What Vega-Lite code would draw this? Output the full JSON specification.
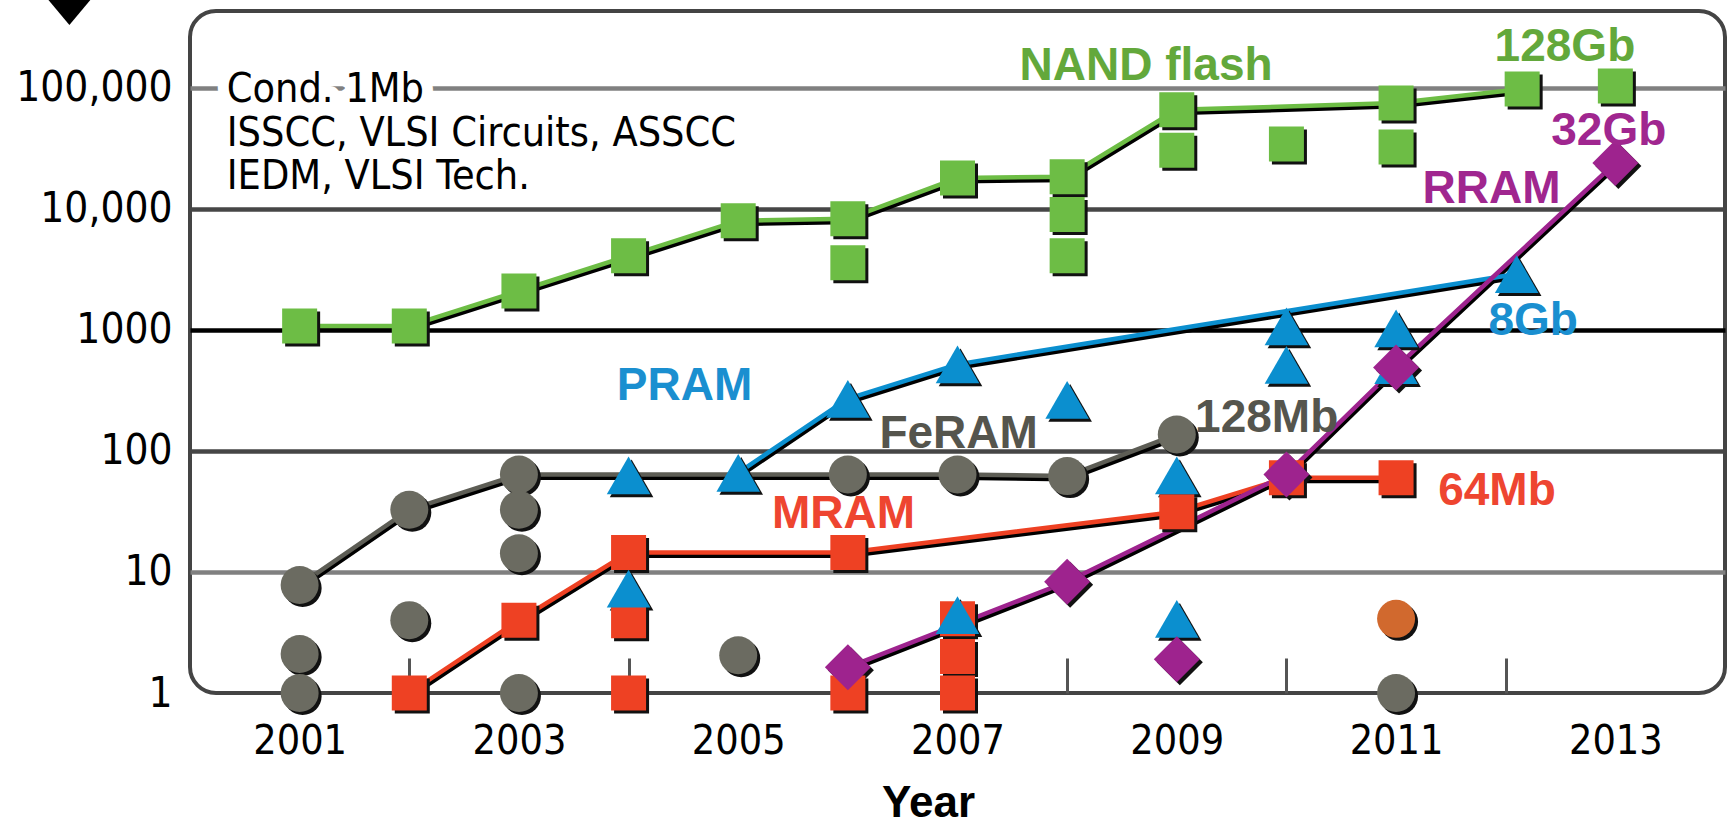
{
  "$schema": "https://vega.github.io/schema/vega-lite/v6.json",
  "width": 1535,
  "height": 682,
  "autosize": {"type": "none"},
  "padding": {"left": 190, "top": 11, "right": 7, "bottom": 129},
  "background": "white",
  "config": {
    "view": {"stroke": "#444444", "strokeWidth": 4, "cornerRadius": 26},
    "axis": {"labelFont": "DejaVu Sans Condensed", "labelColor": "#000000"}
  },
  "datasets": {
    "points": [
      {"series": "FeRAM", "year": 2001, "value": 7.8, "L": 1},
      {"series": "FeRAM", "year": 2001, "value": 2.1, "L": 0},
      {"series": "FeRAM", "year": 2001, "value": 1, "L": 0},
      {"series": "FeRAM", "year": 2002, "value": 32.7, "L": 1},
      {"series": "FeRAM", "year": 2002, "value": 4, "L": 0},
      {"series": "FeRAM", "year": 2003, "value": 64, "L": 1},
      {"series": "FeRAM", "year": 2003, "value": 32.7, "L": 0},
      {"series": "FeRAM", "year": 2003, "value": 14.3, "L": 0},
      {"series": "FeRAM", "year": 2003, "value": 1, "L": 0},
      {"series": "FeRAM", "year": 2005, "value": 2.05, "L": 0},
      {"series": "FeRAM", "year": 2006, "value": 64, "L": 1},
      {"series": "FeRAM", "year": 2007, "value": 64, "L": 1},
      {"series": "FeRAM", "year": 2008, "value": 62, "L": 1},
      {"series": "FeRAM", "year": 2009, "value": 137, "L": 1},
      {"series": "FeRAM", "year": 2011, "value": 1, "L": 0},
      {"series": "Other", "year": 2011, "value": 4.1, "L": 0},
      {"series": "MRAM", "year": 2002, "value": 1, "L": 1},
      {"series": "MRAM", "year": 2003, "value": 4, "L": 1},
      {"series": "MRAM", "year": 2004, "value": 14.5, "L": 1},
      {"series": "MRAM", "year": 2004, "value": 3.95, "L": 0},
      {"series": "MRAM", "year": 2004, "value": 1, "L": 0},
      {"series": "MRAM", "year": 2006, "value": 14.5, "L": 1},
      {"series": "MRAM", "year": 2006, "value": 1, "L": 0},
      {"series": "MRAM", "year": 2007, "value": 4.1, "L": 0},
      {"series": "MRAM", "year": 2007, "value": 2, "L": 0},
      {"series": "MRAM", "year": 2007, "value": 1, "L": 0},
      {"series": "MRAM", "year": 2009, "value": 31.5, "L": 1},
      {"series": "MRAM", "year": 2010, "value": 60, "L": 1},
      {"series": "MRAM", "year": 2011, "value": 60, "L": 1},
      {"series": "PRAM", "year": 2004, "value": 63, "L": 0},
      {"series": "PRAM", "year": 2004, "value": 7.3, "L": 0},
      {"series": "PRAM", "year": 2005, "value": 66, "L": 1},
      {"series": "PRAM", "year": 2006, "value": 270, "L": 1},
      {"series": "PRAM", "year": 2007, "value": 520, "L": 1},
      {"series": "PRAM", "year": 2007, "value": 4.4, "L": 0},
      {"series": "PRAM", "year": 2008, "value": 265, "L": 0},
      {"series": "PRAM", "year": 2009, "value": 63, "L": 0},
      {"series": "PRAM", "year": 2009, "value": 4.1, "L": 0},
      {"series": "PRAM", "year": 2010, "value": 1070, "L": 0},
      {"series": "PRAM", "year": 2010, "value": 515, "L": 0},
      {"series": "PRAM", "year": 2011, "value": 1030, "L": 0},
      {"series": "PRAM", "year": 2011, "value": 512, "L": 0},
      {"series": "PRAM", "year": 2012.1, "value": 2900, "L": 1},
      {"series": "RRAM", "year": 2006, "value": 1.63, "L": 1},
      {"series": "RRAM", "year": 2008, "value": 8.3, "L": 1},
      {"series": "RRAM", "year": 2009, "value": 1.9, "L": 0},
      {"series": "RRAM", "year": 2010, "value": 64, "L": 1},
      {"series": "RRAM", "year": 2011, "value": 490, "L": 1},
      {"series": "RRAM", "year": 2013, "value": 24000, "L": 1},
      {"series": "NAND", "year": 2001, "value": 1080, "L": 1},
      {"series": "NAND", "year": 2002, "value": 1080, "L": 1},
      {"series": "NAND", "year": 2003, "value": 2100, "L": 1},
      {"series": "NAND", "year": 2004, "value": 4100, "L": 1},
      {"series": "NAND", "year": 2005, "value": 8000, "L": 1},
      {"series": "NAND", "year": 2006, "value": 8300, "L": 1},
      {"series": "NAND", "year": 2006, "value": 3600, "L": 0},
      {"series": "NAND", "year": 2007, "value": 18000, "L": 1},
      {"series": "NAND", "year": 2008, "value": 18500, "L": 1},
      {"series": "NAND", "year": 2008, "value": 9000, "L": 0},
      {"series": "NAND", "year": 2008, "value": 4100, "L": 0},
      {"series": "NAND", "year": 2009, "value": 66000, "L": 1},
      {"series": "NAND", "year": 2009, "value": 30500, "L": 0},
      {"series": "NAND", "year": 2010, "value": 34500, "L": 0},
      {"series": "NAND", "year": 2011, "value": 75000, "L": 1},
      {"series": "NAND", "year": 2011, "value": 32500, "L": 0},
      {"series": "NAND", "year": 2012.15, "value": 98000, "L": 1},
      {"series": "NAND", "year": 2013, "value": 104000, "L": 0},
      {"series": "Arrow", "year": 1998.9, "value": 425000, "L": 0}
    ],
    "labels": [
      {"label": "NAND flash", "series": "NAND", "year": 2008.72, "value": 116500},
      {"label": "128Gb", "series": "NAND", "year": 2012.54, "value": 167000},
      {"label": "32Gb", "series": "RRAM", "year": 2012.94, "value": 33800},
      {"label": "RRAM", "series": "RRAM", "year": 2011.87, "value": 11100},
      {"label": "8Gb", "series": "PRAM", "year": 2012.25, "value": 910},
      {"label": "PRAM", "series": "PRAM", "year": 2004.51, "value": 264},
      {"label": "FeRAM", "series": "FeRAM", "year": 2007.01, "value": 105},
      {"label": "128Mb", "series": "FeRAM", "year": 2009.82, "value": 144},
      {"label": "MRAM", "series": "MRAM", "year": 2005.96, "value": 23},
      {"label": "64Mb", "series": "MRAM", "year": 2011.92, "value": 35.8}
    ],
    "notes": [
      {"label": "Cond. 1Mb", "year": 2000.335, "value": 76600},
      {"label": "ISSCC, VLSI Circuits, ASSCC", "year": 2000.335, "value": 33200},
      {"label": "IEDM, VLSI Tech.", "year": 2000.335, "value": 14600}
    ]
  },
  "encoding": {
    "x": {
      "field": "year", "type": "quantitative",
      "scale": {"domain": [2000, 2014], "nice": false, "zero": false},
      "axis": {
        "values": [2001, 2002, 2003, 2004, 2005, 2006, 2007, 2008, 2009, 2010, 2011, 2012, 2013],
        "labelExpr": "datum.value % 2 === 1 ? format(datum.value, 'd') : ''",
        "title": "Year",
        "domain": false,
        "grid": false,
        "ticks": true,
        "tickSize": -35,
        "tickWidth": 3,
        "tickColor": "#555555",
        "tickOpacity": {"condition": {"test": "datum.value % 2 === 0", "value": 1}, "value": 0},
        "labelPadding": 95,
        "labelBaseline": "alphabetic",
        "labelFontSize": 41,
        "labelFlush": false,
        "labelOverlap": false,
        "labelBound": false,
        "titleFont": "Liberation Sans",
        "titleFontWeight": "bold",
        "titleFontSize": 44,
        "titleColor": "#000000",
        "titleX": 738,
        "titleY": 123,
        "titleBaseline": "alphabetic"
      }
    },
    "y": {
      "field": "value", "type": "quantitative",
      "scale": {"type": "log", "domain": [1, 432500], "nice": false},
      "axis": {
        "values": [1, 10, 100, 1000, 10000, 100000],
        "labelExpr": "datum.value >= 10000 ? format(datum.value, ',') : format(datum.value, 'd')",
        "title": null,
        "domain": false,
        "ticks": false,
        "labelPadding": 18,
        "labelFontSize": 42,
        "gridWidth": 4.5,
        "gridColor": {"condition": [{"test": "datum.value === 1000", "value": "#000000"}, {"test": "datum.value === 10000 || datum.value === 100", "value": "#464646"}], "value": "#808080"},
        "gridOpacity": {"condition": {"test": "datum.value === 1", "value": 0}, "value": 1}
      }
    }
  },
  "layer": [
    {
      "data": {"name": "points"},
      "transform": [{"filter": "datum.L === 1"}],
      "mark": {"type": "line", "color": "#000000", "strokeWidth": 5, "xOffset": 1, "yOffset": 3},
      "encoding": {"detail": {"field": "series"}, "order": {"field": "year", "type": "quantitative"}}
    },
    {
      "data": {"name": "points"},
      "transform": [{"filter": "datum.L === 1"}],
      "mark": {"type": "line", "strokeWidth": 4.5},
      "encoding": {
        "color": {"field": "series", "type": "nominal", "legend": null,
          "scale": {"domain": ["NAND", "FeRAM", "MRAM", "PRAM", "RRAM"], "range": ["#6dbd45", "#5d5d55", "#ee4123", "#0b8fcf", "#9e238e"]}},
        "order": {"field": "year", "type": "quantitative"}
      }
    },
    {
      "data": {"name": "points"},
      "transform": [{"filter": "datum.series !== 'Arrow'"}],
      "mark": {"type": "point", "filled": true, "opacity": 1, "color": "#111111", "xOffset": 3, "yOffset": 3},
      "encoding": {
        "shape": {"field": "series", "type": "nominal", "legend": null,
          "scale": {"domain": ["NAND", "FeRAM", "MRAM", "PRAM", "RRAM", "Other", "Arrow"], "range": ["square", "circle", "square", "triangle-up", "diamond", "circle", "M-1,-0.6L1,-0.6L0,0.6Z"]}},
        "size": {"field": "series", "type": "ordinal", "legend": null,
          "scale": {"type": "ordinal", "domain": ["NAND", "FeRAM", "MRAM", "PRAM", "RRAM", "Other", "Arrow"], "range": [1225, 1444, 1225, 1900, 2116, 1444, 1936]}}
      }
    },
    {
      "data": {"name": "points"},
      "mark": {"type": "point", "filled": true, "opacity": 1, "strokeWidth": 0},
      "encoding": {
        "shape": {"field": "series", "type": "nominal", "legend": null,
          "scale": {"domain": ["NAND", "FeRAM", "MRAM", "PRAM", "RRAM", "Other", "Arrow"], "range": ["square", "circle", "square", "triangle-up", "diamond", "circle", "M-1,-0.6L1,-0.6L0,0.6Z"]}},
        "size": {"field": "series", "type": "ordinal", "legend": null,
          "scale": {"type": "ordinal", "domain": ["NAND", "FeRAM", "MRAM", "PRAM", "RRAM", "Other", "Arrow"], "range": [1225, 1444, 1225, 1900, 2116, 1444, 1936]}},
        "color": {"field": "series", "type": "nominal", "legend": null,
          "scale": {"domain": ["NAND", "FeRAM", "MRAM", "PRAM", "RRAM", "Other", "Arrow"], "range": ["#6dbd45", "#6b6b61", "#ee4123", "#0b8fcf", "#9e238e", "#d1692e", "#000000"]}}
      }
    },
    {
      "data": {"name": "labels"},
      "mark": {"type": "text", "font": "Liberation Sans", "fontWeight": "bold", "fontSize": 46, "align": "center", "baseline": "alphabetic"},
      "encoding": {
        "text": {"field": "label"},
        "color": {"field": "series", "type": "nominal", "legend": null,
          "scale": {"domain": ["NAND", "FeRAM", "MRAM", "PRAM", "RRAM"], "range": ["#63a83b", "#55554d", "#ee4530", "#1a8fd0", "#a0268f"]}}
      }
    },
    {
      "data": {"name": "notes"},
      "transform": [{"filter": "datum.label === 'Cond. 1Mb'"}],
      "mark": {"type": "text", "font": "DejaVu Sans Condensed", "fontSize": 41, "align": "left", "baseline": "alphabetic", "color": "#ffffff", "stroke": "#ffffff", "strokeWidth": 22, "strokeJoin": "round"},
      "encoding": {"text": {"field": "label"}}
    },
    {
      "data": {"name": "notes"},
      "mark": {"type": "text", "font": "DejaVu Sans Condensed", "fontSize": 41, "align": "left", "baseline": "alphabetic", "color": "#000000"},
      "encoding": {"text": {"field": "label"}}
    }
  ],
  "resolve": {"scale": {"color": "independent"}}
}
